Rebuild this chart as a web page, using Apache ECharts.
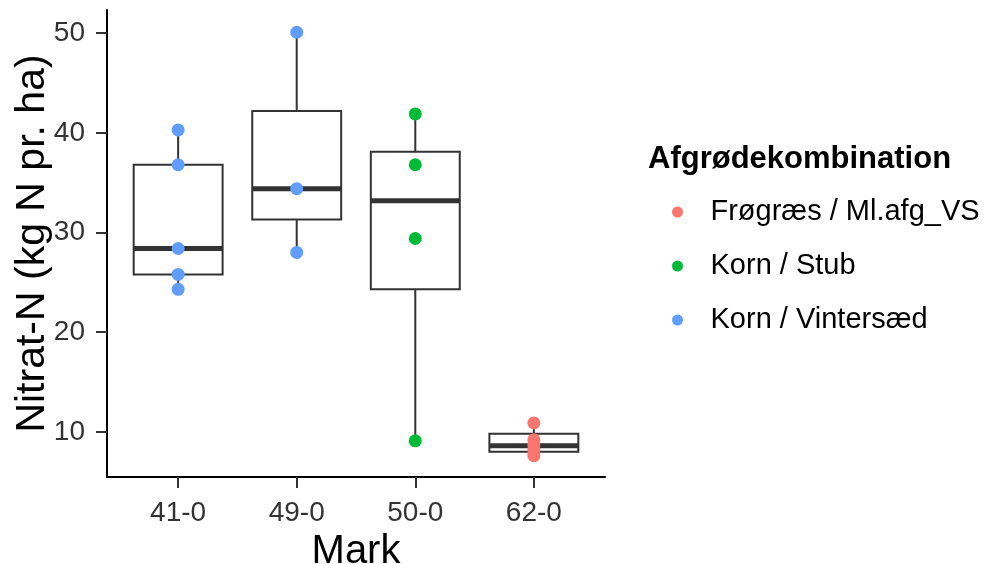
<!DOCTYPE html>
<html>
<head>
<meta charset="utf-8">
<script src="https://cdn.jsdelivr.net/npm/echarts@6/dist/echarts.min.js"></script>
<style>
html,body{margin:0;padding:0;background:#fff;}
#c{width:990px;height:564px;}
</style>
</head>
<body>
<div id="c"></div>
<script>
// ---- data ----
const categories = ['41-0', '49-0', '50-0', '62-0'];
const yTicks = [10, 20, 30, 40, 50];
// box stats per category: [lower whisker, Q1, median, Q3, upper whisker]
const boxStats = [
  [24.3, 25.8, 28.4, 36.8, 40.3],
  [28.0, 31.3, 34.4, 42.2, 50.1],
  [9.1, 24.3, 33.2, 38.1, 41.9],
  [7.7, 8.0, 8.6, 9.8, 10.9]
];
const groupNames = ['Frøgræs / Ml.afg_VS', 'Korn / Stub', 'Korn / Vintersæd'];
// points: [category label, value]
const frograesPts = [['62-0', 10.9], ['62-0', 9.2], ['62-0', 8.7], ['62-0', 8.3], ['62-0', 7.9], ['62-0', 7.6]];
const kornStubPts = [['50-0', 41.9], ['50-0', 36.8], ['50-0', 29.4], ['50-0', 9.1]];
const kornVinterPts = [['41-0', 40.3], ['41-0', 36.8], ['41-0', 28.4], ['41-0', 25.8], ['41-0', 24.3],
                       ['49-0', 50.1], ['49-0', 34.4], ['49-0', 28.0]];
const colors = ['#F8766D', '#00BA38', '#619CFF'];

const toXY = pts => pts.map(p => [categories.indexOf(p[0]) + 1, p[1]]);
const boxData = boxStats.map((s, i) => [i + 1].concat(s));

const chart = echarts.init(document.getElementById('c'), null, {renderer: 'canvas'});
const FONT = 'Liberation Sans, Arial, sans-serif';

function renderBox(params, api) {
  const x = api.value(0);
  const lo = api.coord([x, api.value(1)]);
  const q1 = api.coord([x, api.value(2)]);
  const md = api.coord([x, api.value(3)]);
  const q3 = api.coord([x, api.value(4)]);
  const hi = api.coord([x, api.value(5)]);
  const w = api.size([0.75, 0])[0];
  const cx = lo[0];
  const stroke = {stroke: '#333333', lineWidth: 2, fill: null};
  return {
    type: 'group',
    children: [
      {type: 'line', shape: {x1: cx, y1: hi[1], x2: cx, y2: q3[1]}, style: stroke},
      {type: 'line', shape: {x1: cx, y1: q1[1], x2: cx, y2: lo[1]}, style: stroke},
      {type: 'rect', shape: {x: cx - w / 2, y: q3[1], width: w, height: q1[1] - q3[1]},
       style: {stroke: '#333333', lineWidth: 2, fill: '#ffffff'}},
      {type: 'line', shape: {x1: cx - w / 2, y1: md[1], x2: cx + w / 2, y2: md[1]},
       style: {stroke: '#333333', lineWidth: 5}}
    ]
  };
}

const pointSeries = [frograesPts, kornStubPts, kornVinterPts].map((pts, i) => ({
  name: groupNames[i],
  type: 'scatter',
  data: toXY(pts),
  symbol: 'circle',
  symbolSize: 13,
  itemStyle: {color: colors[i], opacity: 1},
  z: 5,
  silent: true
}));

chart.setOption({
  animation: false,
  backgroundColor: '#ffffff',
  title: {
    text: 'Afgrødekombination',
    left: 643,
    top: 139,
    textStyle: {fontFamily: FONT, fontSize: 31, fontWeight: 'bold', color: '#000'}
  },
  legend: {
    data: groupNames,
    orient: 'vertical',
    left: 667,
    top: 192,
    itemWidth: 56,
    itemHeight: 11,
    itemGap: 24,
    icon: 'circle',
    textStyle: {fontFamily: FONT, fontSize: 29, color: '#000', lineHeight: 30},
    selectedMode: false
  },
  grid: {left: 107, right: 385, top: 10, bottom: 87, containLabel: false, outerBoundsMode: 'none'},
  xAxis: {
    type: 'value',
    min: 0.4,
    max: 4.6,
    name: 'Mark',
    nameLocation: 'middle',
    nameGap: 55,
    nameTextStyle: {fontFamily: FONT, fontSize: 40, color: '#000'},
    axisLine: {show: true, onZero: false, lineStyle: {color: '#000', width: 2}},
    axisTick: {show: true, length: 11, lineStyle: {color: '#333', width: 2}, customValues: [1, 2, 3, 4]},
    axisLabel: {
      customValues: [1, 2, 3, 4],
      formatter: v => categories[Math.round(v) - 1],
      fontFamily: FONT, fontSize: 28, color: '#333333', margin: 22
    },
    splitLine: {show: false}
  },
  yAxis: {
    type: 'value',
    min: 5.47,
    max: 52.33,
    name: 'Nitrat-N (kg N pr. ha)',
    nameLocation: 'middle',
    nameGap: 54,
    nameMoveOverlap: false,
    nameTextStyle: {fontFamily: FONT, fontSize: 41, color: '#000'},
    axisLine: {show: true, onZero: false, lineStyle: {color: '#000', width: 2}},
    axisTick: {show: true, length: 11, lineStyle: {color: '#333', width: 2}, customValues: yTicks},
    axisLabel: {customValues: yTicks, fontFamily: FONT, fontSize: 28, color: '#333333', margin: 22},
    splitLine: {show: false}
  },
  series: [
    {
      type: 'custom',
      renderItem: renderBox,
      data: boxData,
      encode: {x: 0, y: [1, 2, 3, 4, 5]},
      z: 2,
      silent: true
    }
  ].concat(pointSeries)
});
</script>
</body>
</html>
